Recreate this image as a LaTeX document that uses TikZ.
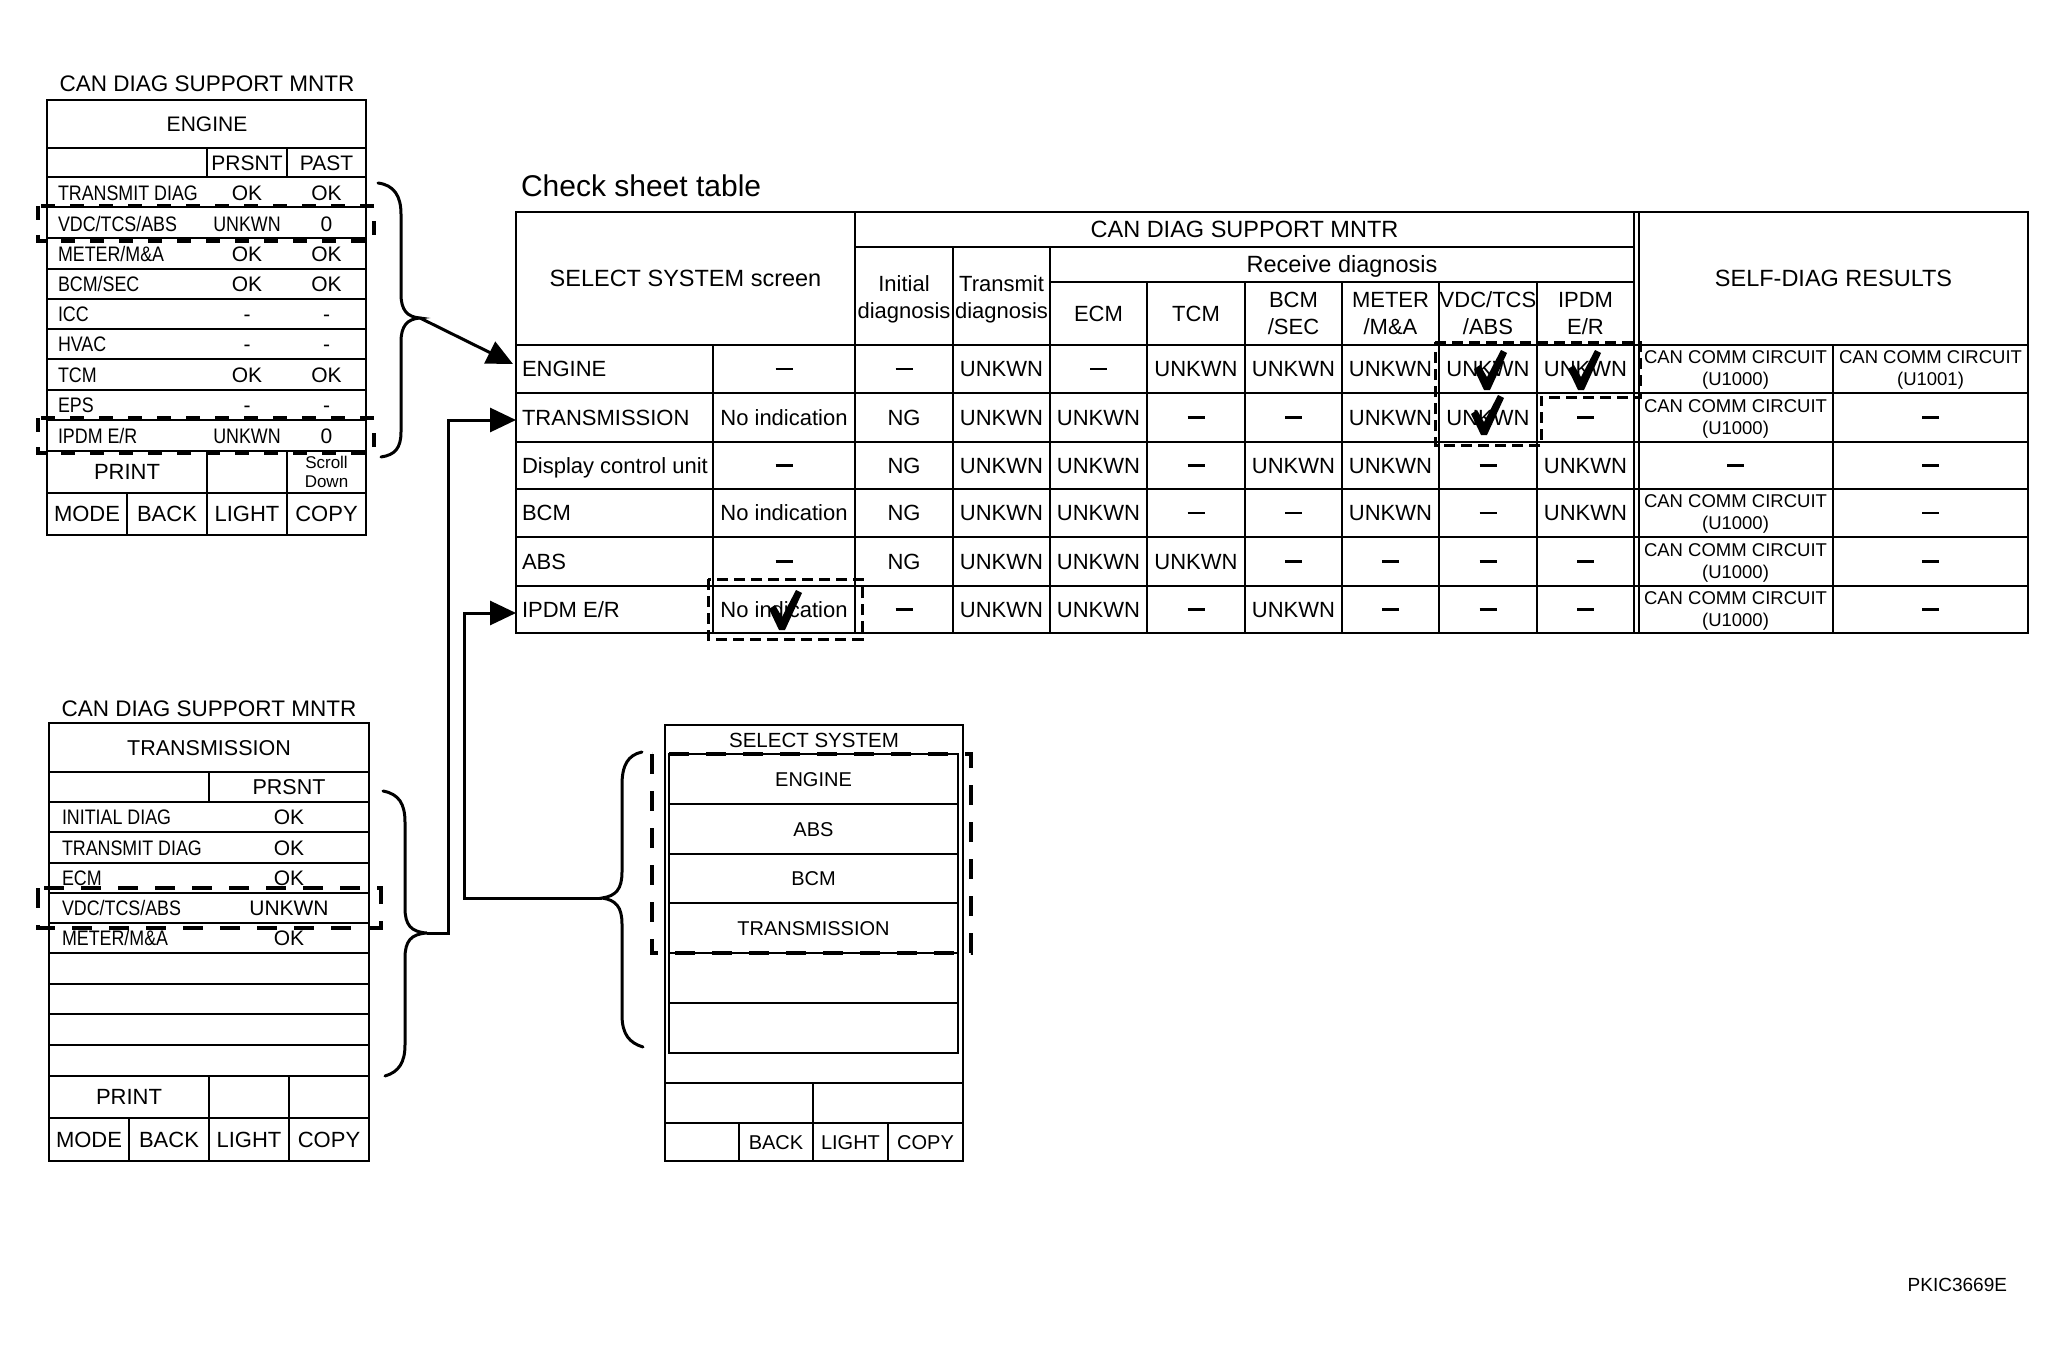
\documentclass[tikz,border=0pt]{standalone}
\usepackage{fontspec}
\setmainfont{Liberation Sans}
\newfontfamily\narrowfont[FakeStretch=0.85]{Liberation Sans}
\usetikzlibrary{arrows.meta}
\newcommand\dsh{\rule[6.7pt]{17pt}{2.4pt}}
\newcommand\chk[2]{\fill[shift={(#1,#2)}] (-13,-19) -- (-7,-23) -- (0,-11) -- (14,-38) -- (20,-35) -- (3,2) -- (-3,2) -- cycle;}
\newcommand\pOne[5]{\node[tn=21,anchor=base west] (#1l) at (58,#2) {#3};\node[tc=21] (#1p) at (247,#2) {#4};\node[tc=21] (#1q) at (326.5,#2) {#5};}
\newcommand\pTwo[4]{\node[tn=21,anchor=base west] (#1l) at (62,#2) {#3};\node[tc=21] (#1v) at (289,#2) {#4};}
\newcommand\rowA[9]{%
 \node[tc=22,anchor=base west] (#1n) at (522,#2) {#3};
 \node[tc=22] (#1s) at (784,#2) {#4};
 \node[tc=22] (#1i) at (904,#2) {#5};
 \node[tc=22] (#1t) at (1001.5,#2) {#6};
 \node[tc=22] (#1e) at (1098.5,#2) {#7};
 \node[tc=22] (#1c) at (1196,#2) {#8};
 \node[tc=22] (#1b) at (1293.5,#2) {#9};}
\newcommand\rowB[5]{%
 \node[tc=22] (#1m) at (1390.5,#2) {#3};
 \node[tc=22] (#1v) at (1488,#2) {#4};
 \node[tc=22] (#1p) at (1585.5,#2) {#5};}
\newcommand\ccirc[3]{\node[mls] (#1) at (1735.5,#2) {CAN COMM CIRCUIT\\(U#3)};}
\begin{document}
\begin{tikzpicture}[x=1pt,y=-1pt,
 tx/.style={inner sep=0pt,outer sep=0pt},
 tc/.style={tx,font=\fontsize{#1}{#1}\selectfont,anchor=base,yshift={-0.358*#1pt}},
 tn/.style={tx,font=\narrowfont\fontsize{#1}{#1}\selectfont,anchor=base,yshift={-0.358*#1pt}},
 mlh/.style={tx,align=center,font=\fontsize{22}{27}\selectfont},
 mls/.style={tx,align=center,font=\fontsize{18.5}{22}\selectfont},
 mlx/.style={tx,align=center,font=\fontsize{17}{19}\selectfont},
 pout/.style={line width=2.7pt},
 pin/.style={line width=2pt},
 thk/.style={line width=2.7pt},
 tin/.style={line width=1.6pt},
 tvl/.style={line width=2pt},
 conn/.style={line width=3pt,-{Triangle[length=26pt,width=24pt]}},
 brc/.style={line width=3pt,line cap=round},
 dashA/.style={line width=4pt,dash pattern=on 14pt off 15pt},
 dashB/.style={line width=4pt,dash pattern=on 20pt off 17pt},
 dashT/.style={line width=3pt,dash pattern=on 11pt off 6pt}]
\fill[white] (0,0) rectangle (2067,1367);
\useasboundingbox (0,0) rectangle (2067,1367);

% ---------- Panel 1 : ENGINE ----------
\node[tc=22.5] (p1title) at (207,83) {CAN DIAG SUPPORT MNTR};
\draw[pout] (47,100) rectangle (366,535);
\foreach \yy in {148,177,207,238,269,299,329,359,390,420,451,493}
  \draw[pin] (47,\yy) -- (366,\yy);
\draw[pin] (207,148) -- (207,177) (287,148) -- (287,177)
  (207,451) -- (207,535) (287,451) -- (287,535) (127,493) -- (127,535);
\node[tc=21] (p1head) at (207,124) {ENGINE};
\node[tc=21] (p1prs) at (247,162.5) {PRSNT};
\node[tc=21] (p1past) at (326.5,162.5) {PAST};
\pOne{e1}{192.5}{TRANSMIT DIAG}{OK}{OK}
\pOne{e2}{223.5}{VDC/TCS/ABS}{\narrowfont UNKWN}{0}
\pOne{e3}{254}{METER/M\&A}{OK}{OK}
\pOne{e4}{284}{BCM/SEC}{OK}{OK}
\pOne{e5}{314}{ICC}{-}{-}
\pOne{e6}{344}{HVAC}{-}{-}
\pOne{e7}{374.5}{TCM}{OK}{OK}
\pOne{e8}{405}{EPS}{-}{-}
\pOne{e9}{435.5}{IPDM E/R}{\narrowfont UNKWN}{0}
\node[tc=22] (p1print) at (127,472) {PRINT};
\node[mlx] (p1scroll) at (326.5,472) {Scroll\\Down};
\node[tc=22] (p1mode) at (87,514) {MODE};
\node[tc=22] (p1back) at (167,514) {BACK};
\node[tc=22] (p1light) at (247,514) {LIGHT};
\node[tc=22] (p1copy) at (326.5,514) {COPY};
\draw[dashA] (38,206) rectangle (374,241);
\draw[dashA] (38,418) rectangle (374,453);
\coordinate (b1tip) at (420,318);
\draw[brc] (378,183) .. controls (394,185) and (401,196) .. (401,214) -- (401,294)
  .. controls (401,310) and (407,317) .. (b1tip)
  .. controls (407,319) and (401,326) .. (401,342) -- (401,432)
  .. controls (401,448) and (395,455) .. (381,457);

% ---------- Panel 2 : TRANSMISSION ----------
\node[tc=22.5] (p2title) at (209,708) {CAN DIAG SUPPORT MNTR};
\draw[pout] (49,723) rectangle (369,1161);
\foreach \yy in {772,802,832,863,893,923,953,984,1014,1045,1076,1118}
  \draw[pin] (49,\yy) -- (369,\yy);
\draw[pin] (209,772) -- (209,802) (209,1076) -- (209,1161)
  (289,1076) -- (289,1161) (129,1118) -- (129,1161);
\node[tc=21.5] (p2head) at (209,747.5) {TRANSMISSION};
\node[tc=21.5] (p2prs) at (289,787) {PRSNT};
\pTwo{t1}{817}{INITIAL DIAG}{OK}
\pTwo{t2}{847.5}{TRANSMIT DIAG}{OK}
\pTwo{t3}{878}{ECM}{OK}
\pTwo{t4}{908}{VDC/TCS/ABS}{UNKWN}
\pTwo{t5}{938}{METER/M\&A}{OK}
\node[tc=22] (p2print) at (129,1097) {PRINT};
\node[tc=22] (p2mode) at (89,1139.5) {MODE};
\node[tc=22] (p2back) at (169,1139.5) {BACK};
\node[tc=22] (p2light) at (249,1139.5) {LIGHT};
\node[tc=22] (p2copy) at (329,1139.5) {COPY};
\draw[dashB] (38,888) rectangle (381,928);
\coordinate (b2tip) at (427,933);
\draw[brc] (383,791) .. controls (399,794) and (405,804) .. (405,822) -- (405,908)
  .. controls (405,925) and (411,932) .. (b2tip)
  .. controls (411,934) and (405,941) .. (405,958) -- (405,1045)
  .. controls (405,1062) and (399,1072) .. (385,1076);

% ---------- SELECT SYSTEM panel ----------
\draw[pout] (665,725) rectangle (963,1161);
\node[tc=20.5] (sstitle) at (814,740) {SELECT SYSTEM};
\draw[pin] (669,754) rectangle (958,1053);
\foreach \yy in {804,854,903,953,1003}
  \draw[pin] (669,\yy) -- (958,\yy);
\draw[pin] (665,1083) -- (963,1083) (665,1123) -- (963,1123)
  (813,1083) -- (813,1161) (739,1123) -- (739,1161) (888,1123) -- (888,1161);
\node[tc=20] (ss1) at (813.5,779) {ENGINE};
\node[tc=20] (ss2) at (813.5,829) {ABS};
\node[tc=20] (ss3) at (813.5,878.5) {BCM};
\node[tc=20] (ss4) at (813.5,928) {TRANSMISSION};
\node[tc=20] (ssback) at (776,1142) {BACK};
\node[tc=20] (sslight) at (850.5,1142) {LIGHT};
\node[tc=20] (sscopy) at (925.5,1142) {COPY};
\draw[dashB] (652,754) rectangle (971,953);
\coordinate (b3tip) at (602,898);
\draw[brc] (642,752) .. controls (628,755) and (622,765) .. (622,785) -- (622,872)
  .. controls (622,889) and (616,896) .. (b3tip)
  .. controls (616,900) and (622,907) .. (622,924) -- (622,1015)
  .. controls (622,1035) and (630,1043) .. (643,1047);

% ---------- Check sheet table ----------
\node[tc=30,anchor=base west] (cst) at (521,186) {Check sheet table};
\draw[thk] (516,212) rectangle (2028,633);
\draw[thk] (516,345) -- (2028,345) (516,586) -- (2028,586);
\draw[tin] (855,247) -- (1634,247) (1050,282) -- (1634,282);
\foreach \yy in {393,442,489,537}
  \draw[tin] (516,\yy) -- (2028,\yy);
\draw[tvl] (713,345) -- (713,633) (855,212) -- (855,633)
  (953,247) -- (953,633) (1050,247) -- (1050,633) (1833,345) -- (1833,633);
\foreach \xx in {1147,1245,1342,1439,1537}
  \draw[tvl] (\xx,282) -- (\xx,633);
\draw[line width=1.4pt] (1634,212) -- (1634,633) (1639,212) -- (1639,633);

\node[tc=23.5] (hsel) at (685.5,278.5) {SELECT SYSTEM screen};
\node[tc=23.5] (hcan) at (1244.5,229.5) {CAN DIAG SUPPORT MNTR};
\node[mlh] (hini) at (904,299) {Initial\\diagnosis};
\node[mlh] (htra) at (1001.5,299) {Transmit\\diagnosis};
\node[tc=23.5] (hrec) at (1342,264.5) {Receive diagnosis};
\node[tc=22] (hecm) at (1098.5,313.5) {ECM};
\node[tc=22] (htcm) at (1196,313.5) {TCM};
\node[mlh] (hbcm) at (1293.5,313.5) {BCM\\/SEC};
\node[mlh] (hmet) at (1390.5,313.5) {METER\\/M\&A};
\node[mlh] (hvdc) at (1488,313.5) {VDC/TCS\\/ABS};
\node[mlh] (hipd) at (1585.5,313.5) {IPDM\\E/R};
\node[tc=23.5] (hself) at (1833.5,278.5) {SELF-DIAG RESULTS};

\rowA{rE}{369}{ENGINE}{\dsh}{\dsh}{UNKWN}{\dsh}{UNKWN}{UNKWN}
\rowB{rE}{369}{UNKWN}{UNKWN}{UNKWN}
\rowA{rT}{417.5}{TRANSMISSION}{No indication}{NG}{UNKWN}{UNKWN}{\dsh}{\dsh}
\rowB{rT}{417.5}{UNKWN}{UNKWN}{\dsh}
\rowA{rD}{465.5}{Display control unit}{\dsh}{NG}{UNKWN}{UNKWN}{\dsh}{UNKWN}
\rowB{rD}{465.5}{UNKWN}{\dsh}{UNKWN}
\rowA{rB}{513}{BCM}{No indication}{NG}{UNKWN}{UNKWN}{\dsh}{\dsh}
\rowB{rB}{513}{UNKWN}{\dsh}{UNKWN}
\rowA{rA}{561.5}{ABS}{\dsh}{NG}{UNKWN}{UNKWN}{UNKWN}{\dsh}
\rowB{rA}{561.5}{\dsh}{\dsh}{\dsh}
\rowA{rI}{609.5}{IPDM E/R}{No indication}{\dsh}{UNKWN}{UNKWN}{\dsh}{UNKWN}
\rowB{rI}{609.5}{\dsh}{\dsh}{\dsh}

\ccirc{sE1}{370}{1000}
\node[mls] (sE2) at (1930.5,370) {CAN COMM CIRCUIT\\(U1001)};
\ccirc{sT1}{418.5}{1000}
\node[tc=22] (sT2) at (1930.5,417.5) {\dsh};
\node[tc=22] (sD1) at (1735.5,465.5) {\dsh};
\node[tc=22] (sD2) at (1930.5,465.5) {\dsh};
\ccirc{sB1}{514}{1000}
\node[tc=22] (sB2) at (1930.5,513) {\dsh};
\ccirc{sA1}{562.5}{1000}
\node[tc=22] (sA2) at (1930.5,561.5) {\dsh};
\ccirc{sI1}{610.5}{1000}
\node[tc=22] (sI2) at (1930.5,609.5) {\dsh};

\draw[dashT] (1435,342) -- (1640,342) -- (1640,397) -- (1541,397) -- (1541,445) -- (1435,445) -- cycle;
\draw[dashT] (708,579) rectangle (862,639);
\chk{1487}{388}
\chk{1581}{388}
\chk{1484}{433}
\chk{782}{628}

% ---------- connectors ----------
\coordinate (aEng) at (513,364);
\coordinate (aTrans) at (516,420);
\coordinate (aIpdm) at (516,613);
\draw[conn] (b1tip) -- (aEng);
\draw[conn] (b2tip) -- ++(21,0) |- (aTrans);
\draw[conn] (b3tip) -- ++(-138,0) |- (aIpdm);

\node[tc=19,anchor=base east] (code) at (2007,1285) {PKIC3669E};
\end{tikzpicture}
\end{document}
